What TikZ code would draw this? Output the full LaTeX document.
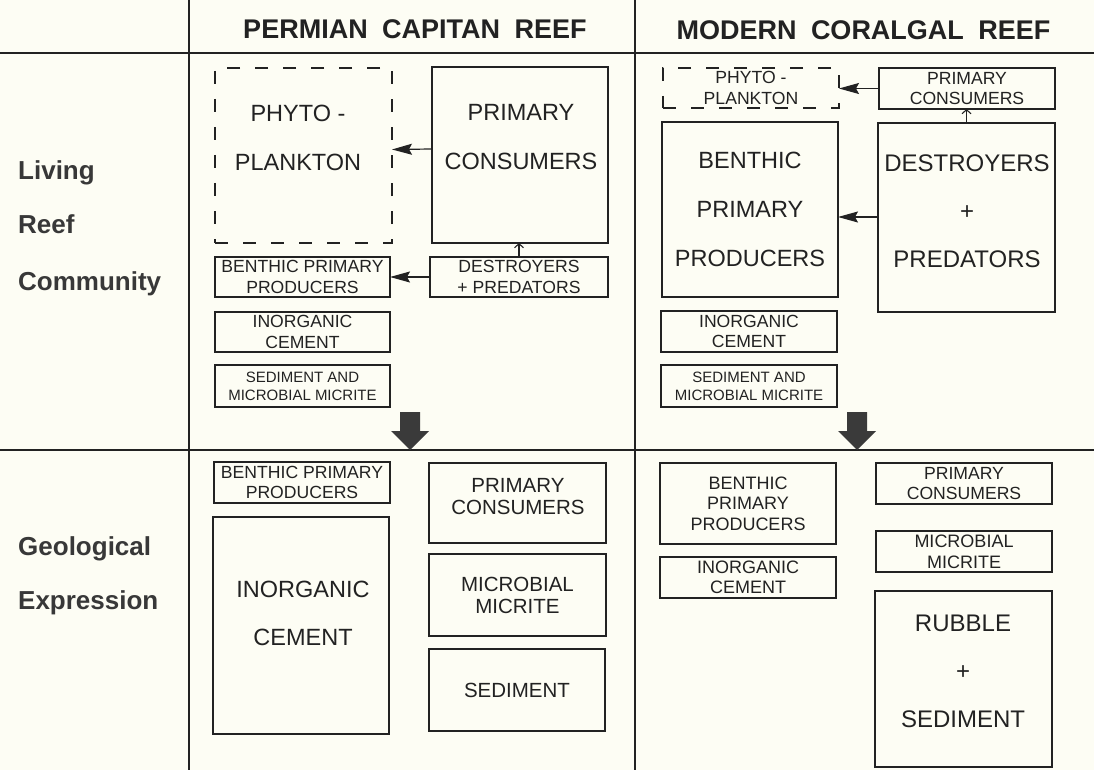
\documentclass[tikz,border=0pt]{standalone}
\usepackage{fontspec}
\setmainfont{Liberation Sans}
\usetikzlibrary{arrows.meta,calc}
\definecolor{bg}{HTML}{FDFDF4}
\definecolor{ink}{HTML}{222222}
\definecolor{bigarrow}{HTML}{3A3A3A}
\begin{document}
\begin{tikzpicture}[x=1pt,y=-1pt,
  grid/.style={draw=ink,line width=1.1pt},
  box/.style={draw=ink,line width=1.3pt,rectangle,inner sep=0pt,outer sep=0pt,text=ink,align=center},
  dbox/.style={box,dash pattern=on 13pt off 15pt},
  head/.style={font=\fontsize{27}{30}\selectfont\bfseries,text=ink,inner sep=0pt},
  side/.style={font=\fontsize{26}{30}\selectfont\bfseries,text=ink!90,inner sep=0pt,anchor=base west},
  big/.style={font=\fontsize{23.5}{49}\selectfont},
  mid/.style={font=\fontsize{20.5}{22}\selectfont},
  sml/.style={font=\fontsize{17.6}{20.5}\selectfont},
  tny/.style={font=\fontsize{15}{18}\selectfont},
  txt/.style={text=ink,inner sep=0pt,align=center},
  arr/.style={draw=ink,line width=1.2pt,-{Stealth[length=20pt,width=11pt,inset=3pt]}},
  uarr/.style={draw=ink,line width=1.1pt,-{Straight Barb[length=4pt,width=9pt]}},
  down/.style={fill=bigarrow}]
\useasboundingbox (0,0) rectangle (1094,770);
\fill[bg] (0,0) rectangle (1094,770);
% grid
\draw[grid] (189,0) -- (189,770);
\draw[grid] (635,0) -- (635,770);
\draw[grid] (0,53) -- (1094,53);
\draw[grid] (0,450) -- (1094,450);
% headers
\node[head] (h1) at (415,29.5) {PERMIAN\hspace{14.5pt}CAPITAN\hspace{14.5pt}REEF};
\node[head] (h2) at (863.5,30) {MODERN\hspace{14.5pt}CORALGAL\hspace{14.5pt}REEF};
% side labels
\node[side] (s1) at (18,180) {Living};
\node[side] (s2) at (18,233) {Reef};
\node[side] (s3) at (18,290) {Community};
\node[side] (s4) at (18,555) {Geological};
\node[side] (s5) at (18,609) {Expression};
% Permian living
\node[dbox,minimum width=177pt,minimum height=175pt] (phyto1) at (303.5,155.5) {};
\node[txt,big] (phyto1t) at (298,137.5) {PHYTO -\\PLANKTON};
\node[box,minimum width=176pt,minimum height=176pt] (pc1) at (520,155) {};
\node[txt,big] (pc1t) at (521,137.5) {PRIMARY\\CONSUMERS};
\node[box,sml,minimum width=175pt,minimum height=40pt] (ben1) at (302.5,277) {BENTHIC PRIMARY\\PRODUCERS};
\node[box,sml,minimum width=178pt,minimum height=40pt] (des1) at (519,277) {DESTROYERS\\+ PREDATORS};
\node[box,sml,minimum width=175pt,minimum height=40pt] (ino1) at (302.5,332) {INORGANIC\\CEMENT};
\node[box,tny,minimum width=175pt,minimum height=42pt] (sed1) at (302.5,386) {SEDIMENT AND\\MICROBIAL MICRITE};
\draw[arr] ([yshift=6pt]pc1.west) -- ([yshift=6pt]phyto1.east);
\draw[arr] (des1.west) -- (ben1.east);
\draw[uarr] (des1.north) -- (des1.north |- pc1.south);
\fill[down] (400,412) -- (420,412) -- (420,431) -- (429,431) -- (410,450) -- (391,431) -- (400,431) -- cycle;
% Modern living
\node[dbox,sml,minimum width=176pt,minimum height=40pt] (phyto2) at (751,88) {PHYTO -\\PLANKTON};
\node[box,sml,minimum width=176pt,minimum height=41pt] (pc2) at (967,88.5) {PRIMARY\\CONSUMERS};
\node[box,big,minimum width=176pt,minimum height=175pt] (ben2) at (750,209.5) {BENTHIC\\PRIMARY\\PRODUCERS};
\node[box,minimum width=177pt,minimum height=189pt] (des2) at (966.5,217.5) {};
\node[txt,font=\fontsize{24}{48}\selectfont] (des2t) at (967,211) {DESTROYERS\\+\\PREDATORS};
\node[box,sml,minimum width=176pt,minimum height=41pt] (ino2) at (749,331.5) {INORGANIC\\CEMENT};
\node[box,tny,minimum width=176pt,minimum height=42pt] (sed2) at (749,386) {SEDIMENT AND\\MICROBIAL MICRITE};
\draw[arr] (pc2.west) -- (pc2.west -| phyto2.east);
\draw[arr] ([yshift=0.5pt]des2.west) -- ([yshift=0.5pt]des2.west -| ben2.east);
\draw[uarr] (des2.north) -- (des2.north |- pc2.south);
\fill[down] (847,412) -- (867,412) -- (867,431) -- (876,431) -- (857,450) -- (838,431) -- (847,431) -- cycle;
% Permian geological
\node[box,sml,minimum width=176pt,minimum height=41pt] (ben3) at (302,482.5) {BENTHIC PRIMARY\\PRODUCERS};
\node[box,minimum width=176pt,minimum height=217pt] (ino3) at (301,625.5) {};
\node[txt,font=\fontsize{23.5}{48}\selectfont] (ino3t) at (303,613) {INORGANIC\\CEMENT};
\node[box,minimum width=177pt,minimum height=80pt] (pc3) at (517.5,503) {};
\node[txt,mid] (pc3t) at (518,497) {PRIMARY\\CONSUMERS};
\node[box,mid,minimum width=177pt,minimum height=82pt] (mic3) at (517.5,595) {MICROBIAL\\MICRITE};
\node[box,mid,minimum width=176pt,minimum height=82pt] (sed3) at (517,690) {SEDIMENT};
% Modern geological
\node[box,font=\fontsize{18}{20.5}\selectfont,minimum width=176pt,minimum height=81pt] (ben4) at (748,503.5) {BENTHIC\\PRIMARY\\PRODUCERS};
\node[box,font=\fontsize{18}{20}\selectfont,minimum width=176pt,minimum height=41pt] (ino4) at (748,577.5) {INORGANIC\\CEMENT};
\node[box,sml,minimum width=176pt,minimum height=41pt] (pc4) at (964,483.5) {PRIMARY\\CONSUMERS};
\node[box,font=\fontsize{18}{21}\selectfont,minimum width=176pt,minimum height=41pt] (mic4) at (964,551.5) {MICROBIAL\\MICRITE};
\node[box,minimum width=177pt,minimum height=176pt] (rub4) at (963.5,679) {};
\node[txt,font=\fontsize{24}{48}\selectfont] (rub4t) at (963,671) {RUBBLE\\+\\SEDIMENT};
\end{tikzpicture}
\end{document}
